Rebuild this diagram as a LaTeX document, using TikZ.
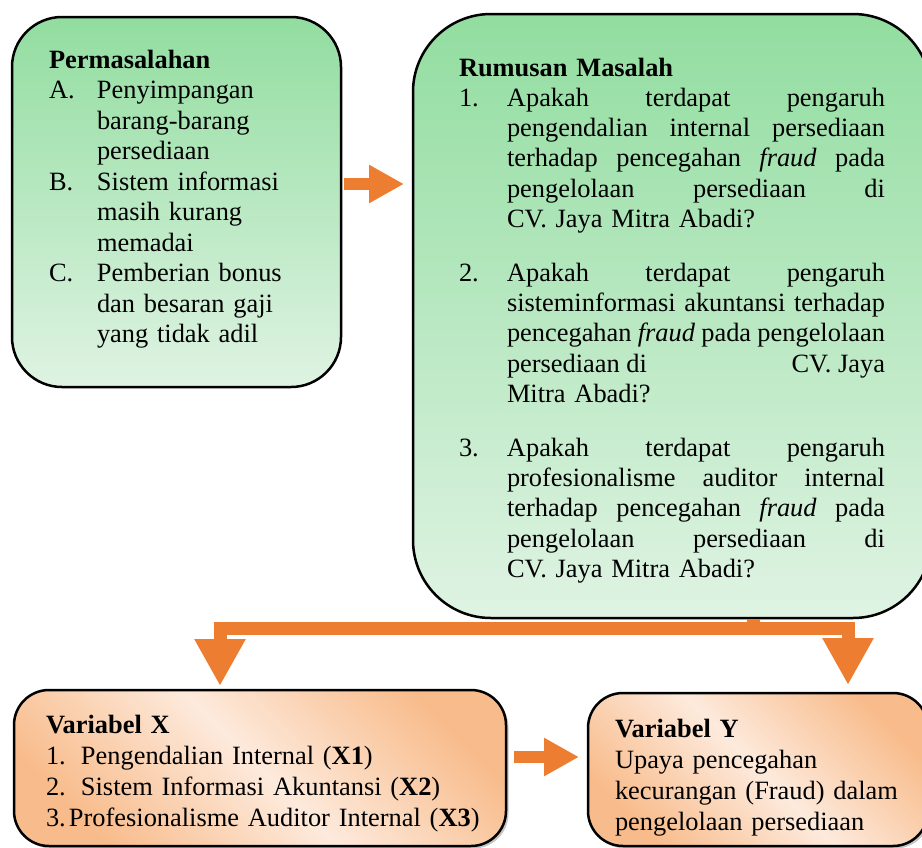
\documentclass[tikz,border=0pt]{standalone}
\usepackage{fontspec}
\setmainfont{Liberation Serif}
\usepackage{tikz}
\usetikzlibrary{positioning, calc, arrows.meta, shadows}

\definecolor{greentop}{RGB}{146,221,160}
\definecolor{greenbottom}{RGB}{223,243,227}
\definecolor{orangedark}{RGB}{248,188,140}
\definecolor{orangelight}{RGB}{253,234,220}
\definecolor{arroworange}{RGB}{237,125,49}

\pgfdeclarehorizontalshading{orangeband}{100bp}{color(0bp)=(orangedark); color(25bp)=(orangedark); color(50bp)=(orangelight); color(75bp)=(orangedark); color(100bp)=(orangedark)}

\tikzstyle{blockarrow} = [draw=arroworange, line width=12pt, -{Triangle[length=35pt,width=36pt]}]
\tikzstyle{connector} = [draw=arroworange, line width=13pt, line join=miter, -{Triangle[length=47pt,width=48pt]}]
\tikzstyle{greenbox} = [rectangle, draw=black, line width=2.5pt, inner sep=0pt, outer sep=0pt, top color=greentop, bottom color=greenbottom]
\tikzstyle{orangebox} = [rectangle, rounded corners=35pt, draw=black, line width=2.5pt, inner sep=0pt, outer sep=0pt, shading=orangeband, shading angle=45, drop shadow={shadow xshift=2.5pt, shadow yshift=-2.5pt, fill=black!45, opacity=0.5}]
\tikzset{
	boxtext/.style = {inner sep=0pt, outer sep=0pt, anchor=base west,
		font=\fontsize{26.4pt}{30.3pt}\selectfont}
}
% justified line of the Rumusan Masalah box
\newcommand\jline[1]{\hbox to 378pt{\spaceskip=\fontdimen2\font plus 1fil minus \fontdimen4\font\relax #1}\newline}
\newcommand\lbl[2]{\makebox[#1][l]{#2}}

\begin{document}
\begin{tikzpicture}[x=1pt, y=-1pt]
\useasboundingbox (0,0) rectangle (922,847);
%----------------------------------------------------------------------------
% Placement of boxes
\node (perm) [greenbox, rounded corners=50pt, minimum width=329pt, minimum height=370pt, anchor=north west] at (12,17) {};
\node (rumusan) [greenbox, rounded corners=78pt, minimum width=518pt, minimum height=604pt, right=72pt of perm.north east, anchor=north west, yshift=3pt] {};
\node (varx) [orangebox, minimum width=492pt, minimum height=156pt, below=303pt of perm.south west, anchor=north west, xshift=2pt] {};
\node (vary) [orangebox, minimum width=340pt, minimum height=153pt, right=82pt of varx.north east, anchor=north west, yshift=-3pt] {};

%----------------------------------------------------------------------------
% Texts of the boxes
\node (permtext) [boxtext, text width=254pt, font=\fontsize{26.4pt}{30.5pt}\selectfont] at ($(perm.north west)+(37,51)$) {%
	\textbf{Permasalahan}\par
	\hangindent=48pt\hangafter=1\lbl{48pt}{A.}Penyimpangan\newline barang-barang\newline persediaan\par
	\hangindent=48pt\hangafter=1\lbl{48pt}{B.}Sistem informasi\newline masih kurang\newline memadai\par
	\hangindent=48pt\hangafter=1\lbl{48pt}{C.}Pemberian bonus\newline dan besaran gaji\newline yang tidak adil\par};

\node (rumusantext) [boxtext, text width=426pt] at ($(rumusan.north west)+(46,62)$) {%
	\textbf{Rumusan Masalah}\par
	\hangindent=48pt\hangafter=1\lbl{48pt}{1.}\jline{Apakah terdapat pengaruh}\jline{pengendalian internal persediaan}\jline{terhadap pencegahan \textit{fraud} pada}\jline{pengelolaan persediaan di}CV. Jaya Mitra Abadi?\par
	\vspace{23.5pt}
	\hangindent=48pt\hangafter=1\lbl{48pt}{2.}\jline{Apakah terdapat pengaruh}\jline{sisteminformasi akuntansi terhadap}\jline{pencegahan \textit{fraud} pada pengelolaan}\jline{persediaan~di\hfill CV.~Jaya}Mitra Abadi?\par
	\vspace{23.5pt}
	\hangindent=48pt\hangafter=1\lbl{48pt}{3.}\jline{Apakah terdapat pengaruh}\jline{profesionalisme auditor internal}\jline{terhadap pencegahan \textit{fraud} pada}\jline{pengelolaan persediaan di}CV. Jaya Mitra Abadi?\par};

\node (varxtext) [boxtext, text width=455pt, font=\fontsize{26.4pt}{31.3pt}\selectfont] at ($(varx.north west)+(32,43)$) {%
	\textbf{Variabel X}\par
	\lbl{35pt}{1.}Pengendalian Internal (\textbf{X1})\par
	\lbl{35pt}{2.}Sistem Informasi Akuntansi (\textbf{X2})\par
	\lbl{23pt}{3.}Profesionalisme Auditor Internal (\textbf{X3})};

\node (varytext) [boxtext, text width=300pt, font=\fontsize{26.4pt}{31pt}\selectfont] at ($(vary.north west)+(27,44)$) {%
	\textbf{Variabel Y}\par
	Upaya pencegahan\newline kecurangan (Fraud) dalam\newline pengelolaan persediaan};

%----------------------------------------------------------------------------
% Draw arrows
\draw [blockarrow] ($(perm.east)+(3,-18)$) -- ($(perm.east -| rumusan.west)+(-9,-18)$);
\draw [blockarrow] ($(varx.east)+(8,-11)$) -- ($(varx.east -| vary.west)+(-9,-11)$);

% split connector below Rumusan Masalah
\coordinate (fork) at ($(rumusan.south)+(81,10)$);
\draw [connector] ($(rumusan.south -| fork)+(0,1)$) -- (fork) -| ($(varx.north)+(-40,-4)$);
\draw [connector] (fork) -| ($(vary.north)+(90,-8)$);

\end{tikzpicture}
\end{document}
